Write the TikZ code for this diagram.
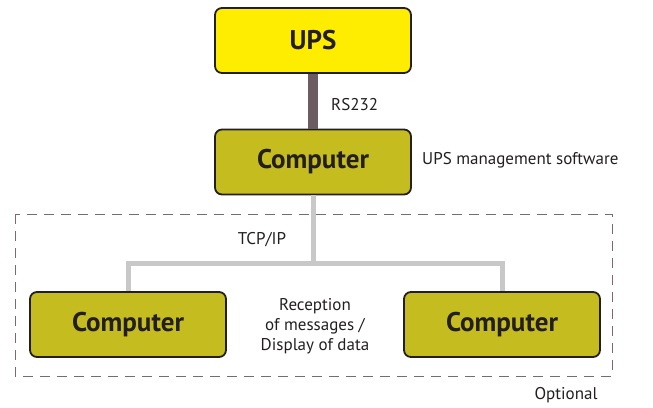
\documentclass[tikz,border=0pt]{standalone}
\usepackage{fontspec}
\setmainfont{PT Sans}
\definecolor{upsyellow}{HTML}{FFED00}
\definecolor{compolive}{HTML}{C5BC1F}
\definecolor{rsline}{HTML}{6B5C61}
\definecolor{tcpline}{HTML}{C8C8C8}
\definecolor{boxedge}{HTML}{231F20}
\definecolor{dashgray}{HTML}{7A6A6E}
\definecolor{txt}{HTML}{231F20}
\begin{document}
\begin{tikzpicture}[x=1pt,y=-1pt,
  box/.style={draw=boxedge,line width=1.8pt,rounded corners=7pt,minimum width=196pt,minimum height=65pt,inner sep=0pt,font=\fontsize{27}{30}\selectfont\bfseries,text=txt},
  lbl/.style={font=\fontsize{17}{20}\selectfont,text=txt,inner sep=0pt}]
\useasboundingbox (0,0) rectangle (653,407);
\draw[dashgray,line width=1pt,dash pattern=on 10pt off 7pt] (15,214) rectangle (612,376);
\node[box,fill=upsyellow] (ups) at (313,40.5) {UPS};
\node[box,fill=compolive] (pc) at (313,162) {Computer};
\node[box,fill=compolive] (pcl) at (128,324.5) {Computer};
\node[box,fill=compolive] (pcr) at (502,324.5) {Computer};
\draw[rsline,line width=10pt] (ups.south) -- (pc.north);
\coordinate (tl) at (128,263);
\coordinate (tr) at (502,263);
\coordinate (tm) at (313,263);
\draw[tcpline,line width=5pt] (pc.south) -- (tm);
\draw[tcpline,line width=5pt] (pcl.north) -- (tl) -- (tr) -- (pcr.north);
\node[lbl,anchor=west] (rs) at (331,105) {RS232};
\node[lbl,anchor=west] (sw) at (422,160) {UPS management software};
\node[lbl] (tcp) at (262,240) {TCP/IP};
\node[lbl,align=center,font=\fontsize{17}{20}\selectfont] (rec) at (315,326) {Reception\\of messages /\\Display of data};
\node[lbl] (opt) at (566,395) {Optional};
\end{tikzpicture}
\end{document}
